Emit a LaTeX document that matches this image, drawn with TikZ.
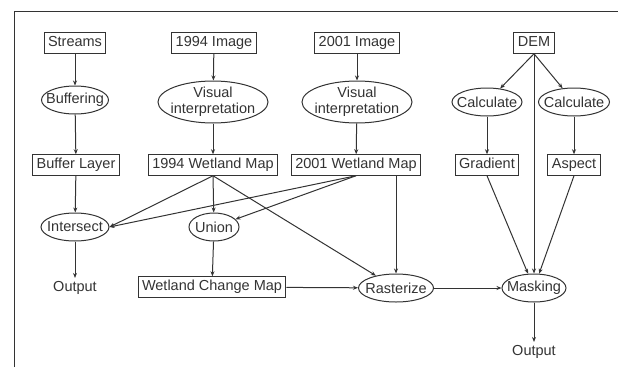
\documentclass[tikz,border=0pt]{standalone}
\usepackage{fontspec}
\setsansfont{Liberation Sans}
\usetikzlibrary{shapes.geometric, arrows.meta}
\definecolor{ink}{HTML}{333333}

\begin{document}
\begin{tikzpicture}[
    x=1pt, y=-1pt,
    font=\sffamily\fontsize{14.5}{16}\selectfont, >={Stealth[length=5pt, width=4pt]},
    color=ink, line width=1pt,
    data/.style  ={draw, rectangle, inner xsep=4pt, inner ysep=3.5pt, text height=10.5pt, text depth=3pt},
    oval/.style  ={draw, ellipse, inner xsep=-20pt, inner ysep=-10pt, minimum height=28pt},
    twoline/.style={oval, align=center, minimum width=110pt, minimum height=42pt},
    result/.style={inner sep=3pt},
    flow/.style  ={->},
    frame/.style ={line width=1pt}
]
\useasboundingbox (0,0) rectangle (618,367);

% Frame
\draw[frame] (14,367) -- (14,11) -- (618,11);

% Streams column
\node[data] (streams) at (75,43) {Streams};
\node[oval, minimum width=67pt] (buffering) at (75,100) {Buffering};
\node[data] (bufferlayer) at (76,165) {Buffer Layer};
\node[oval, minimum width=68pt] (isect) at (75,227) {Intersect};
\node[result] (out1) at (75,288) {Output};

% 1994 column
\node[data] (img94) at (214,43) {1994 Image};
\node[twoline] (vis94) at (213,102) {Visual\\interpretation};
\node[data] (wm94) at (213,165) {1994 Wetland Map};
\node[oval, minimum width=50pt] (union) at (214,227) {Union};
\node[data] (change) at (212,287) {Wetland Change Map};

% 2001 column
\node[data] (img01) at (357,43) {2001 Image};
\node[twoline] (vis01) at (357,102) {Visual\\interpretation};
\node[data] (wm01) at (356,165) {2001 Wetland Map};
\node[oval, minimum width=75pt] (raster) at (396,288) {Rasterize};

% DEM column
\node[data] (dem) at (534,43) {DEM};
\node[oval, minimum width=70pt] (calc1) at (487,102) {Calculate};
\node[oval, minimum width=71pt] (calc2) at (574,102) {Calculate};
\node[data] (grad) at (487,165) {Gradient};
\node[data] (aspect) at (574,165) {Aspect};
\node[oval, minimum width=64pt] (mask) at (534,288) {Masking};
\node[result] (out2) at (534,352) {Output};

% Arrows
\draw[flow] (streams) -- (buffering);
\draw[flow] (buffering) -- (bufferlayer);
\draw[flow] (bufferlayer) -- (isect);
\draw[flow] (isect) -- (out1);

\draw[flow] (img94) -- (vis94);
\draw[flow] (vis94) -- (wm94);
\draw[flow] (wm94.south) -- (isect.east);
\draw[flow] (wm94.south) -- (union);
\draw[flow] (wm94.south) -- (raster);
\draw[flow] (union) -- (change);
\draw[flow] (change) -- (raster);

\draw[flow] (img01) -- (vis01);
\draw[flow] (vis01) -- (wm01);
\draw[flow] (wm01.south) -- (isect.east);
\draw[flow] (wm01.south) -- (union);
\draw[flow] (raster.north |- wm01.south) -- (raster);
\draw[flow] (raster) -- (mask);

\draw[flow] (dem.south) -- (calc1);
\draw[flow] (dem.south) -- (calc2);
\draw[flow] (dem) -- (mask);
\draw[flow] (calc1) -- (grad);
\draw[flow] (calc2) -- (aspect);
\draw[flow] (grad.south) -- (mask);
\draw[flow] (aspect.south) -- (mask);
\draw[flow] (mask) -- (out2);

\end{tikzpicture}
\end{document}
